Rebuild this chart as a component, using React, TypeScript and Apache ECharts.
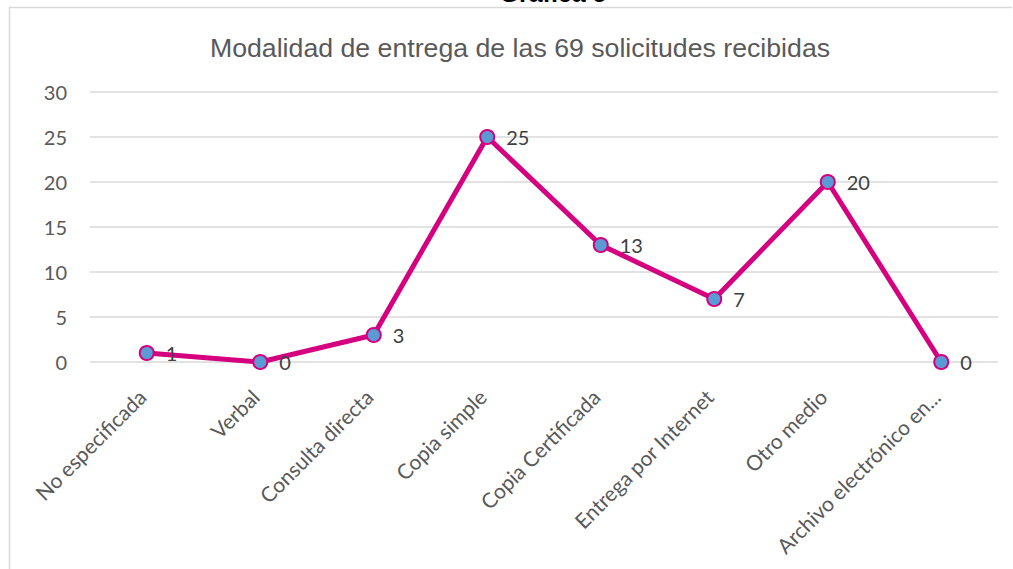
import React, { useEffect, useRef } from "react";
import * as echarts from "echarts";

const categories = [
  "No especificada",
  "Verbal",
  "Consulta directa",
  "Copia simple",
  "Copia Certificada",
  "Entrega por Internet",
  "Otro medio",
  "Archivo electrónico en...",
];
const values = [1, 0, 3, 25, 13, 7, 20, 0];
const yTicks = { min: 0, max: 30, interval: 5 };
const chartTitle = "Modalidad de entrega de las 69 solicitudes recibidas";
const headerText = "Gráfica 5";

export default function App() {
  const ref = useRef<HTMLDivElement>(null);
  useEffect(() => {
    const chart = echarts.init(ref.current!, null, { renderer: "svg" });
    chart.setOption({
      animation: false,
      backgroundColor: "#ffffff",
      title: {
        text: chartTitle,
        left: 515,
        textAlign: "center",
        top: 29,
        textStyle: {
          fontFamily: "Liberation Sans, Arial, sans-serif",
          fontSize: 26.7,
          fontWeight: "normal",
          color: "#595959",
        },
      },
      graphic: [
        {
          type: "line",
          shape: { x1: 9, y1: 7.5, x2: 1012, y2: 7.5 },
          style: { stroke: "#d9d9d9", lineWidth: 1.5 },
        },
        {
          type: "line",
          shape: { x1: 9.5, y1: 7, x2: 9.5, y2: 569 },
          style: { stroke: "#d9d9d9", lineWidth: 1.5 },
        },
        {
          type: "text",
          x: 553,
          y: 5,
          style: {
            text: headerText,
            textAlign: "center",
            textVerticalAlign: "bottom",
            fontFamily: "Liberation Sans, Arial, sans-serif",
            fontWeight: "bold",
            fontSize: 25,
            fill: "#000000",
          },
        },
      ],
      grid: { left: 90, right: 15, top: 92, bottom: 207 },
      xAxis: {
        type: "category",
        data: categories,
        boundaryGap: true,
        axisLine: { show: false },
        axisTick: { show: false },
        axisLabel: {
          rotate: 45,
          interval: 0,
          margin: 26,
          padding: [0, 7, 0, 0],
          fontFamily: "Lato, Open Sans, sans-serif",
          fontSize: 21,
          color: "#595959",
        },
      },
      yAxis: {
        type: "value",
        min: yTicks.min,
        max: yTicks.max,
        interval: yTicks.interval,
        axisLine: { show: false },
        axisTick: { show: false },
        splitLine: { lineStyle: { color: "#d9d9d9", width: 1.5 } },
        axisLabel: {
          margin: 23,
          fontFamily: "Lato, Open Sans, sans-serif",
          fontSize: 20,
          color: "#595959",
        },
      },
      series: [
        {
          type: "line",
          data: values,
          symbol: "circle",
          symbolSize: 14,
          lineStyle: { color: "#D5007F", width: 5 },
          itemStyle: { color: "#5B9BD5", borderColor: "#D5007F", borderWidth: 2 },
          label: {
            show: true,
            position: "right",
            distance: 11,
            fontFamily: "Lato, Open Sans, sans-serif",
            fontSize: 20,
            color: "#404040",
          },
        },
      ],
    });
    return () => chart.dispose();
  }, []);
  return (
    <div
      ref={ref}
      style={{ position: "fixed", left: 0, top: 0, width: 1013, height: 569 }}
    />
  );
}
